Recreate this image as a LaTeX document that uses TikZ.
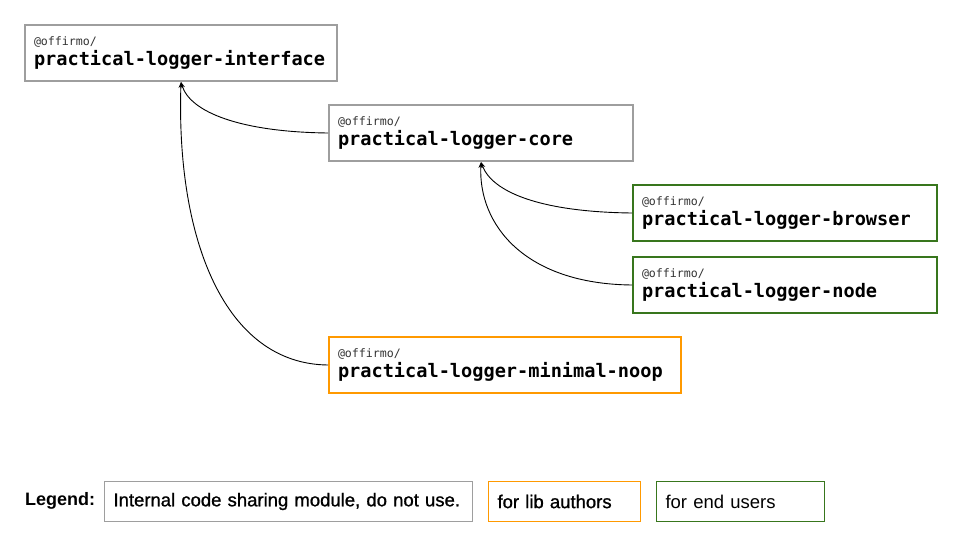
\documentclass[tikz,border=0pt]{standalone}
\usepackage{fontspec}
\setmainfont{Liberation Sans}
\newfontfamily\pkgmono{DejaVu Sans Mono}
\newfontfamily\medsans[FakeBold=1.0]{Liberation Sans}
\usetikzlibrary{arrows.meta}
\definecolor{boxgray}{HTML}{9E9E9E}
\definecolor{boxgreen}{HTML}{38761D}
\definecolor{boxorange}{HTML}{FF9900}
\definecolor{scopegray}{HTML}{333333}
\newcommand{\pkgtext}[1]{{\fontsize{11.6}{14}\selectfont\color{scopegray}@offirmo/}\\{\fontsize{18.6}{20}\selectfont\bfseries #1}}
\tikzset{
  pkg/.style={draw, line width=2pt, anchor=north west, align=left, inner xsep=9pt, inner ysep=0pt,
    minimum height=56pt, font=\pkgmono\fontsize{18.6}{20}\selectfont},
  legbox/.style={draw, line width=1pt, anchor=north west, align=left, inner xsep=9pt, inner ysep=0pt,
    minimum height=40pt, font=\fontsize{18.5}{21}\selectfont},
  dep/.style={draw=black, line width=0.9pt, -{Stealth[length=6pt,width=4.5pt]}}
}
\begin{document}
\begin{tikzpicture}[x=1pt,y=-1pt]
\useasboundingbox (0,0) rectangle (960,540);
\fill[white] (0,0) rectangle (960,540);
% packages
\node[pkg, draw=boxgray, minimum width=312pt, text width=294pt] (iface) at (24,24) {\pkgtext{practical-logger-interface}};
\node[pkg, draw=boxgray, minimum width=304pt, text width=286pt] (core) at (328,104) {\pkgtext{practical-logger-core}};
\node[pkg, draw=boxgreen, minimum width=304pt, text width=286pt] (browser) at (632,184) {\pkgtext{practical-logger-browser}};
\node[pkg, draw=boxgreen, minimum width=304pt, text width=286pt] (nodepkg) at (632,256) {\pkgtext{practical-logger-node}};
\node[pkg, draw=boxorange, minimum width=352pt, text width=334pt] (noop) at (328,336) {\pkgtext{practical-logger-minimal-noop}};
% dependencies
\draw[dep] (core.west) .. controls (240,132) and (190,112) .. (iface.south);
\draw[dep] (noop.west) .. controls (225,364) and (176,240) .. (iface.south);
\draw[dep] (browser.west) .. controls (540,212) and (492,192) .. (core.south);
\draw[dep] (nodepkg.west) .. controls (525,284) and (478,225) .. (core.south);
% legend
\node[anchor=west, inner sep=0pt, font=\bfseries\fontsize{18}{21}\selectfont] (legend) at (25,501) {Legend:};
\node[legbox, draw=boxgray, minimum width=368pt, text width=350pt, font=\medsans\fontsize{18.5}{21}\selectfont] (leg1) at (104,481) {Internal code sharing module, do not use.};
\node[legbox, draw=boxorange, minimum width=152pt, text width=134pt, font=\medsans\fontsize{18.5}{21}\selectfont] (leg2) at (488,481) {for lib authors};
\node[legbox, draw=boxgreen, minimum width=168pt, text width=150pt] (leg3) at (656,481) {for end users};
\end{tikzpicture}
\end{document}
